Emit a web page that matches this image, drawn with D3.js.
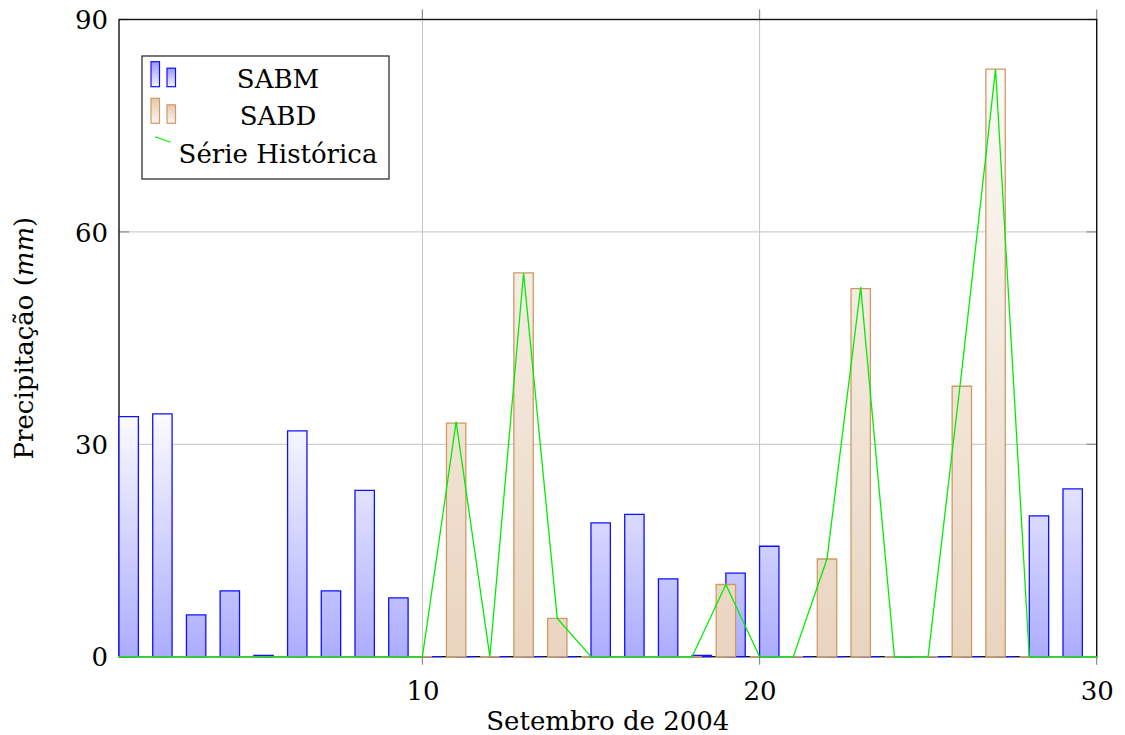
<!DOCTYPE html>
<html><head><meta charset="utf-8">
<script src="https://cdn.jsdelivr.net/npm/d3@7"></script>
<style>body{margin:0;background:#fff} text{font-family:"DejaVu Serif",serif;fill:#000}</style>
</head><body><svg id="c" width="1125" height="735"></svg>
<script>
// ---- data ----
const days  = [1,2,3,4,5,6,7,8,9,10,11,12,13,14,15,16,17,18,19,20,21,22,23,24,25,26,27,28,29,30];
const sabm  = [33.9,34.3,5.9,9.3,0.2,31.9,9.3,23.5,8.3,0,0,0,0,0,18.9,20.1,11.0,0.2,11.8,15.6,0,0,0,0,0,0,0,19.9,23.7,0];
const sabd  = [0,0,0,0,0,0,0,0,0,0,33.0,0,54.2,5.4,0,0,0,0,10.2,0,0,13.8,52.0,0,0,38.2,83.0,0,0,0];
const serie = [0,0,0,0,0,0,0,0,0,0,33.2,0,54.2,5.4,0,0,0,0,10.2,0,0,13.8,52.2,0,0,40.5,83.0,0,0,0];
const xTicks = [10,20,30];
const yTicks = [0,30,60,90];
const seriesNames = ["SABM","SABD","Série Histórica"];
const xLabel = "Setembro de 2004";

// ---- layout ----
const svg = d3.select("#c");
const L=119, R=1096.7, T=19.5, B=656.7;
const x = d3.scaleLinear().domain([1,30]).range([L,R]);
const y = d3.scaleLinear().domain([0,90]).range([B,T]);
const bw = x(1.575)-x(1);
const FS = 26;

const defs = svg.append("defs");
function grad(id, y1, y2, c1, c2, user){
  const g = defs.append("linearGradient").attr("id",id).attr("x1",0).attr("x2",0);
  if(user){ g.attr("gradientUnits","userSpaceOnUse").attr("y1",y1).attr("y2",y2); }
  else { g.attr("y1",0).attr("y2",1); }
  g.append("stop").attr("offset",0).attr("stop-color",c1);
  g.append("stop").attr("offset",1).attr("stop-color",c2);
}
grad("gBlue", y(0), y(d3.max(sabm)), "#acacff", "#fbfbff", true);
grad("gOr", y(0), y(d3.max(sabd)), "#e9d4bf", "#fdfaf7", true);
grad("gBlueL", 0,0, "#9a9aff", "#f4f4ff", false);
grad("gOrL", 0,0, "#e3c9ae", "#fbf6f1", false);
defs.append("clipPath").attr("id","clip").append("rect")
  .attr("x",L-1).attr("y",T-1).attr("width",R-L+2).attr("height",B-T+2);

// grid
const grid = svg.append("g").attr("stroke","#c4c4c4").attr("stroke-width",1);
xTicks.forEach(t=>grid.append("line").attr("x1",x(t)).attr("x2",x(t)).attr("y1",T).attr("y2",B));
yTicks.filter(t=>t>0&&t<90).forEach(t=>grid.append("line").attr("x1",L).attr("x2",R).attr("y1",y(t)).attr("y2",y(t)));

// ticks
const tk = svg.append("g").attr("stroke","#8a8a8a").attr("stroke-width",1.2);
xTicks.forEach(t=>{
  tk.append("line").attr("x1",x(t)).attr("x2",x(t)).attr("y1",B).attr("y2",B+8);
  tk.append("line").attr("x1",x(t)).attr("x2",x(t)).attr("y1",T-10).attr("y2",T);
});
yTicks.forEach(t=>{
  tk.append("line").attr("x1",L).attr("x2",L+10).attr("y1",y(t)).attr("y2",y(t));
  tk.append("line").attr("x1",R-10).attr("x2",R).attr("y1",y(t)).attr("y2",y(t));
});

// frame
svg.append("rect").attr("x",L).attr("y",T).attr("width",R-L).attr("height",B-T)
  .attr("fill","none").attr("stroke","#111").attr("stroke-width",1.4);

// axis labels
const xa = d3.axisBottom(x).tickValues(xTicks).tickSize(0).tickPadding(0);
const gx = svg.append("g").attr("transform",`translate(0,${B})`).call(xa);
gx.select(".domain").remove();
gx.selectAll("text").attr("font-size",FS).attr("font-family","DejaVu Serif").attr("dy",null).attr("y",43);
const ya = d3.axisLeft(y).tickValues(yTicks).tickSize(0).tickPadding(0);
const gy = svg.append("g").attr("transform",`translate(${L-11},0)`).call(ya);
gy.select(".domain").remove();
gy.selectAll("text").attr("font-size",FS).attr("font-family","DejaVu Serif").attr("dy","0.35em");

svg.append("text").attr("x",(L+R)/2).attr("y",730).attr("text-anchor","middle")
  .attr("font-size",FS).text(xLabel);
const yl = svg.append("text").attr("transform",`translate(33,${(T+B)/2}) rotate(-90)`)
  .attr("text-anchor","middle").attr("font-size",FS);
yl.append("tspan").text("Precipitação (");
yl.append("tspan").attr("font-style","italic").text("mm");
yl.append("tspan").text(")");

// bars
const plot = svg.append("g").attr("clip-path","url(#clip)");
function barPath(x0, v){
  const y0=y(0), y1=y(v);
  return `M${x0},${y0}V${y1}H${x0+bw}V${y0}Z`;
}
plot.append("g").selectAll("path").data(days).join("path")
  .attr("d",(d,i)=>barPath(x(d), sabm[i]))
  .attr("fill","url(#gBlue)").attr("stroke","#1010ff").attr("stroke-width",1.3);
plot.append("g").selectAll("path").data(days).join("path")
  .attr("d",(d,i)=>barPath(x(d)-bw/2, sabd[i]))
  .attr("fill","url(#gOr)").attr("stroke","#cf9a66").attr("stroke-width",1.3);
const line = d3.line().x((d,i)=>x(days[i])).y(d=>y(d));
plot.append("path").datum(serie).attr("d",line).attr("fill","none")
  .attr("stroke","#00ee00").attr("stroke-width",1.3);

// legend
const lg = svg.append("g");
lg.append("rect").attr("x",142).attr("y",56).attr("width",247).attr("height",123)
  .attr("fill","#fff").attr("stroke","#222").attr("stroke-width",1.2);
function icon(yb, fill, stroke){
  lg.append("rect").attr("x",151).attr("y",yb-25).attr("width",8.5).attr("height",25)
    .attr("fill",fill).attr("stroke",stroke).attr("stroke-width",1.2);
  lg.append("rect").attr("x",167).attr("y",yb-18.5).attr("width",8.5).attr("height",18.5)
    .attr("fill",fill).attr("stroke",stroke).attr("stroke-width",1.2);
}
icon(86.7,"url(#gBlueL)","#1010ff");
icon(123.3,"url(#gOrL)","#cf9a66");
lg.append("line").attr("x1",155).attr("y1",136.7).attr("x2",170.7).attr("y2",142.3)
  .attr("stroke","#00ee00").attr("stroke-width",1.2);
[88,125,163].forEach((yy,i)=>lg.append("text").attr("x",278).attr("y",yy)
  .attr("text-anchor","middle").attr("font-size",FS).text(seriesNames[i]));
</script></body></html>
